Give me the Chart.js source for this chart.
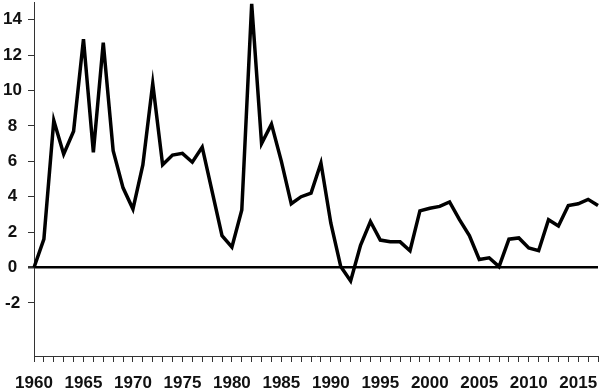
<!DOCTYPE html>
<html>
<head>
<meta charset="utf-8">
<script src="https://cdn.jsdelivr.net/npm/chart.js@4/dist/chart.umd.min.js"></script>
<style>
	html, body { margin: 0; padding: 0; background: #fff; }
	#wrap { width: 600px; height: 389px; position: relative; }
</style>
</head>
<body>
<div id="wrap"><canvas id="chart"></canvas></div>
<script>
const years = [];
for (let y = 1960; y <= 2017; y++) years.push(y);

// values, one per year 1960..2017
const values = [
	0.0, 1.6, 8.3, 6.4, 7.7, 12.9, 6.5, 12.7, 6.6, 4.5,
	3.3, 5.8, 10.4, 5.8, 6.35, 6.45, 5.95, 6.8, 4.3, 1.8,
	1.15, 3.25, 14.9, 7.0, 8.1, 6.0, 3.6, 4.0, 4.2, 5.9,
	2.5, 0.05, -0.76, 1.25, 2.6, 1.55, 1.45, 1.45, 0.95, 3.2,
	3.35, 3.45, 3.7, 2.7, 1.8, 0.45, 0.55, 0.05, 1.6, 1.67,
	1.1, 0.95, 2.7, 2.35, 3.5, 3.6, 3.85, 3.5
];

const yTicks = [-2, 0, 2, 4, 6, 8, 10, 12, 14];

const font = { family: "'Liberation Sans', Arial, sans-serif", size: 17, weight: "bold" };
const axisColour = "#333";

// chart.js reserves room for half a label at the ends; the picture doesn't
function noEndPadding(s){
	s.paddingTop = 0;
	s.paddingBottom = 0;
	s.paddingLeft = 0;
	s.paddingRight = 0;
}

new Chart(document.querySelector("#chart"), {
	type: "line",
	data: {
		labels: years,
		datasets: [{
			data: values,
			borderColor: "#000",
			borderWidth: 3.5,
			borderJoinStyle: "miter",
			pointRadius: 0,
			tension: 0,
		}],
	},
	options: {
		responsive: true,
		maintainAspectRatio: false,
		animation: false,
		layout: { padding: { top: 2, right: 2, left: 0, bottom: 0 } },
		plugins: { legend: { display: false }, tooltip: { enabled: false } },
		scales: {
			x: {
				type: "category",
				offset: false,
				border: { color: axisColour, width: 1 },
				grid: { drawOnChartArea: false, tickLength: 6, tickColor: axisColour },
				ticks: {
					autoSkip: false,
					maxRotation: 0,
					minRotation: 0,
					padding: 11,
					color: "#111",
					font: font,
					callback: (v, i) => years[i] % 5 == 0 ? String(years[i]) : "",
				},
				afterFit: s => { s.height = 33; noEndPadding(s); },
			},
			y: {
				min: -5,
				max: 15,
				border: { color: axisColour, width: 1 },
				grid: {
					drawOnChartArea: true,
					tickLength: 6,
					tickColor: axisColour,
					color: c => c.tick && c.tick.value == 0 ? "#000" : "rgba(0,0,0,0)",
					lineWidth: c => c.tick && c.tick.value == 0 ? 2.5 : 1,
				},
				afterBuildTicks: s => { s.ticks = yTicks.map(v => ({ value: v })); },
				ticks: {
					crossAlign: "center",
					padding: 6,
					color: "#111",
					font: font,
				},
				afterFit: s => { s.width = 34; noEndPadding(s); },
			},
		},
	},
});
</script>
</body>
</html>
